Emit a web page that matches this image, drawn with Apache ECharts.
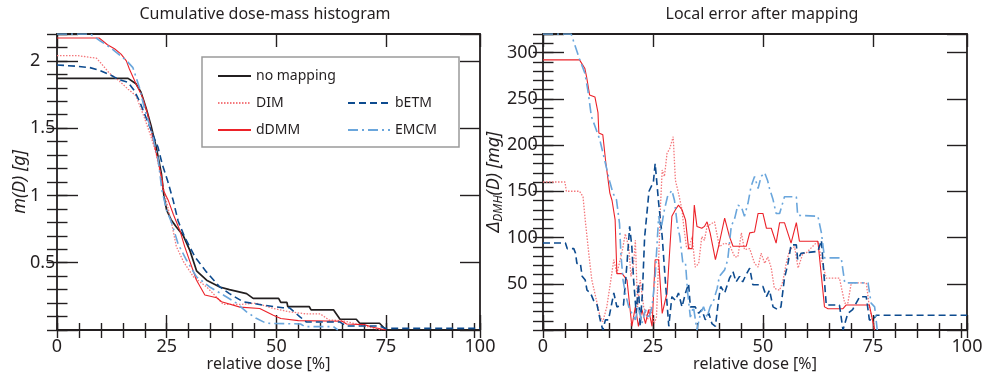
<!DOCTYPE html>
<html>
<head>
<meta charset="utf-8">
<script src="https://cdn.jsdelivr.net/npm/echarts@6/dist/echarts.min.js"></script>
<style>
  html, body { margin: 0; padding: 0; background: #fff; }
  #chart { width: 989px; height: 373px; }
</style>
</head>
<body>
<div id="chart"></div>
<script>
// the frame of both panels ends a little short of 100 %, the edge carries the "100" label
const doseEnd = 96.4
const doseTicks = [0, 25, 50, 75]
const doseEndLabel = '100'

// cumulative dose-mass histogram: [relative dose %, m(D) g]
const dmhNoMapping = [[0, 1.87], [16.2, 1.87], [18.0, 1.83], [19.1, 1.77], [20.3, 1.65], [21.5, 1.51], [22.6, 1.36], [23.8, 1.16], [24.4, 0.99], [25.0, 0.89], [26.0, 0.82], [27.2, 0.765], [28.8, 0.70], [30.3, 0.59], [31.8, 0.44], [34.1, 0.37], [37.1, 0.32], [39.3, 0.30], [43.2, 0.27], [44.7, 0.235], [50.5, 0.235], [51, 0.205], [52.4, 0.205], [52.6, 0.173], [57.5, 0.173], [57.9, 0.15], [63, 0.15], [64.5, 0.08], [68.2, 0.08], [69, 0.05], [73.5, 0.05], [75, 0.0]]
const dmhDIM = [[0, 2.04], [4.5, 2.04], [9.0, 2.02], [10.1, 1.98], [11.9, 1.91], [14.2, 1.85], [16.2, 1.79], [18.0, 1.74], [19.9, 1.58], [21.5, 1.43], [22.6, 1.31], [24.0, 1.09], [26.2, 0.78], [27.2, 0.62], [28.8, 0.51], [31.1, 0.395], [34.1, 0.32], [36.5, 0.24], [37.9, 0.19], [41.7, 0.19], [45.4, 0.20], [49.3, 0.16], [53, 0.135], [56.7, 0.12], [60, 0.12], [62, 0.074], [65, 0.07], [70, 0.03], [74, 0.0]]
const dmhDDMM = [[0, 2.17], [9.6, 2.17], [11.5, 2.12], [13.1, 2.09], [14.6, 2.05], [15.8, 2.0], [16.5, 1.94], [18.0, 1.83], [19.5, 1.73], [20.7, 1.60], [21.8, 1.43], [23.0, 1.26], [24.0, 1.11], [24.2, 1.04], [25.4, 0.96], [26.5, 0.86], [28.0, 0.74], [29.1, 0.62], [30.7, 0.47], [31.8, 0.37], [33.7, 0.26], [36.4, 0.24], [37.5, 0.21], [41.7, 0.17], [46.2, 0.16], [49.3, 0.11], [51, 0.085], [55, 0.07], [65, 0.065], [66, 0.045], [70, 0.04], [72, 0.02], [75, 0.0]]
const dmhBETM = [[0, 1.97], [4.5, 1.96], [7.5, 1.95], [9.7, 1.93], [11.9, 1.90], [14.2, 1.86], [16.2, 1.84], [17.6, 1.78], [18.8, 1.70], [19.9, 1.61], [21.5, 1.48], [23.0, 1.36], [24.0, 1.23], [25.2, 1.11], [26.5, 0.96], [27.6, 0.81], [29.1, 0.69], [31.5, 0.54], [34.1, 0.43], [37.1, 0.32], [39.3, 0.27], [42.4, 0.21], [46.9, 0.185], [51.5, 0.165], [53, 0.165], [55.3, 0.10], [56.8, 0.06], [64.4, 0.06], [65.9, 0.03], [73.5, 0.03], [74.8, 0.012], [96.4, 0.012]]
const dmhEMCM = [[0, 2.2], [7.6, 2.2], [9.8, 2.15], [12.1, 2.10], [15.9, 2.0], [17.3, 1.95], [18.8, 1.80], [19.9, 1.65], [21.5, 1.48], [23.0, 1.28], [23.9, 1.04], [25.0, 0.89], [26.2, 0.79], [27.6, 0.64], [29.5, 0.52], [31.8, 0.395], [34.8, 0.32], [37.9, 0.26], [40.9, 0.20], [43.2, 0.135], [45.4, 0.087], [47.7, 0.05], [55.5, 0.045], [56.5, 0.025], [63, 0.025], [64, 0.0]]

// local error after mapping: [relative dose %, delta mg]
const errDIM = [[0, 160], [5, 160], [5.3, 150], [8.3, 150], [9.1, 144], [9.6, 119], [10.4, 83], [11.1, 54], [12.3, 29], [13, 14], [13.6, 9], [14.5, 25], [15.3, 50], [16.1, 76], [16.8, 61], [18, 85], [18.7, 104], [19.5, 90], [20, 58], [20.6, 72], [21, 97], [21.5, 25], [22.1, 54], [22.9, 25], [23.8, 11], [24.4, 25], [25.3, 7], [25.8, 14], [26.3, 76], [26.7, 133], [27.1, 173], [27.6, 166], [28.2, 191], [28.8, 196], [29.6, 209], [30.1, 162], [30.8, 148], [31.6, 130], [32, 112], [32.6, 90], [33.1, 87], [33.9, 101], [34.6, 68], [35.4, 72], [36.1, 101], [36.7, 97], [37.3, 112], [39, 117], [40.1, 90], [41.3, 94], [42.4, 92], [43.6, 79], [44.3, 79], [45.1, 105], [45.8, 87], [47, 88], [48.1, 72], [48.9, 68], [49.6, 83], [50.4, 72], [51.1, 79], [51.9, 67], [52.6, 45], [53.8, 43], [54.5, 52], [55.3, 72], [56.1, 87], [57.2, 90], [58, 67], [59.1, 83], [59.8, 83], [60.6, 87], [62.5, 96], [63.3, 76], [64.4, 56], [67.4, 56], [68.6, 29], [69.3, 29], [70.1, 51], [73.5, 51], [74.2, 25], [75.4, 0]]
const errDDMM = [[0, 292], [8.3, 292], [9.5, 283], [9.9, 274], [10.6, 254], [11.8, 252], [12.5, 235], [12.7, 213], [13.6, 211], [14.3, 180], [15.2, 148], [15.7, 140], [16.4, 119], [16.8, 61], [18, 61], [19.1, 54], [20.2, 4], [21, 25], [21.7, 4], [22.5, 22], [23.3, 7], [24, 22], [24.8, 4], [25.5, 76], [26.3, 76], [27.1, 18], [28.2, 40], [29.3, 123], [30.1, 130], [30.8, 135], [31.6, 130], [32.4, 119], [33.1, 88], [33.9, 88], [34.4, 135], [35, 112], [36.1, 110], [36.7, 112], [37.3, 117], [38, 105], [39.2, 76], [39.9, 90], [41.3, 121], [42.4, 101], [43.2, 90.5], [46.2, 90.5], [47, 105], [48.1, 106], [48.9, 126], [50, 126], [50.8, 110], [51.9, 110], [53, 94], [53.8, 116], [54.9, 116], [56.4, 94], [57.6, 116], [58.3, 96], [62.5, 96], [64, 25], [64.8, 23], [68.2, 23], [68.9, 27], [74.2, 27], [75.4, 0]]
const errBETM = [[0, 94], [5.1, 94], [5.5, 88], [7, 88], [7.4, 83], [7.7, 72], [8.5, 72], [8.9, 58], [9.6, 54], [10, 43], [10.8, 40], [11.5, 32], [12.3, 27], [13, 11], [13.6, 0], [14.2, 11], [14.9, 11], [16.1, 40], [16.8, 25], [18.3, 27], [19.1, 72], [19.7, 112], [20.2, 90], [20.6, 54], [21.2, 18], [21.7, 50], [22.1, 4], [22.6, 40], [23.1, 100], [23.6, 125], [24.1, 150], [24.6, 155], [25.1, 160], [25.5, 180], [26.3, 137], [27.1, 101], [27.8, 54], [28.6, 4], [29.3, 36], [30.1, 32], [30.8, 40], [31.6, 25], [32.4, 40], [33.1, 50], [33.5, 25], [34.6, 25], [35.4, 18], [36.1, 22], [36.9, 11], [37.7, 18], [38.4, 7], [39.2, 4], [39.9, 32], [40.4, 47], [41.3, 40], [42.4, 56], [43.2, 63], [43.9, 52], [44.7, 58], [45.4, 52], [46.2, 60], [47, 67], [47.7, 49], [48.9, 49], [50, 47], [50.8, 36], [51.5, 43], [52.3, 25], [53.4, 22], [54.1, 25], [54.9, 56], [55.7, 72], [56.4, 92], [57.6, 92], [57.9, 76], [58.7, 83], [62.5, 85], [63.3, 97], [64.4, 27], [67.4, 27], [68.2, 0], [69.3, 18], [70.4, 22], [72, 36], [73.5, 36], [74.2, 11], [75, 11], [75.8, 16], [96.4, 16]]
const errEMCM = [[0, 320], [6.4, 320], [8.3, 293], [9.5, 278], [10.2, 259], [11, 231], [12.9, 206], [14.2, 180], [15.2, 160], [15.9, 148], [16.7, 141], [17.4, 115], [17.7, 83], [18.2, 54], [18.7, 40], [19.5, 25], [20.2, 18], [21, 11], [21.7, 25], [22.5, 7], [23.3, 22], [24, 12], [24.8, 25], [25.5, 58], [26.3, 123], [26.8, 108], [27.6, 130], [28.3, 144], [29.3, 151], [29.9, 140], [30.5, 115], [31.1, 101], [31.8, 72], [32.4, 72], [32.9, 40], [33.5, 14], [34.2, 25], [35, 0], [35.8, 18], [36.5, 25], [37.3, 14], [38, 25], [38.8, 32], [39.6, 45], [40.1, 58], [41.3, 65], [42, 76], [42.8, 112], [43.6, 121], [44.3, 135], [45.1, 133], [45.8, 123], [46.6, 137], [47.3, 155], [48.1, 166], [48.9, 153], [49.6, 166], [50.4, 170], [51.1, 161], [51.5, 153], [52.3, 141], [53, 126], [53.8, 126], [54.9, 144], [57.6, 144], [57.9, 124], [62.5, 123], [63.3, 105], [64, 78], [67.8, 78], [68.6, 51], [73.9, 51], [74.6, 29], [75.4, 25], [76, 0]]

const ink = '#231f20'
const font = 'Noto Sans'
const tickLine = { color: ink, width: 1.4 }
const frameLine = { show: true, onZero: false, lineStyle: { color: ink, width: 1.8 } }

const styles = {
  'no mapping': { color: ink, width: 1.7, type: 'solid' },
  'DIM': { color: '#f4787c', width: 1.3, type: [1.5, 1.5] },
  'dDMM': { color: '#ec2229', width: 1.1, type: 'solid' },
  'bETM': { color: '#0d4b8f', width: 1.6, type: [7, 4] },
  'EMCM': { color: '#6aa6dc', width: 1.6, type: [10, 4, 2, 4] }
}

function doseLabel (v) {
  if (v >= doseEnd - 1e-6) return doseEndLabel
  return doseTicks.indexOf(v) >= 0 ? String(v) : ''
}

// bottom major (labelled), bottom minor, top major, top minor
function doseAxes (gridIndex) {
  const base = {
    type: 'value', gridIndex, min: 0, max: doseEnd,
    splitLine: { show: false }, axisLabel: { show: false }, axisLine: { show: false }
  }
  return [
    Object.assign({}, base, {
      position: 'bottom', interval: 25, axisLine: frameLine,
      axisTick: { inside: true, length: 15, lineStyle: tickLine },
      axisLabel: { show: true, margin: 8, fontSize: 18, color: ink, fontFamily: font, formatter: doseLabel },
      name: 'relative dose [%]', nameLocation: 'middle', nameGap: 26, nameMoveOverlap: false,
      nameTextStyle: { fontSize: 16, color: ink, fontFamily: font }
    }),
    Object.assign({}, base, { position: 'bottom', interval: 5, axisTick: { inside: true, length: 7, lineStyle: tickLine } }),
    Object.assign({}, base, { position: 'top', interval: 25, axisLine: frameLine, axisTick: { inside: true, length: 13, lineStyle: tickLine } }),
    Object.assign({}, base, { position: 'top', interval: 5, axisTick: { inside: true, length: 8, lineStyle: tickLine } })
  ]
}

// left major (labelled), left minor, right major, right minor
function valueAxes (gridIndex, max, major, minor, name, nameGap, labelMargin) {
  const base = {
    type: 'value', gridIndex, min: 0, max,
    splitLine: { show: false }, axisLabel: { show: false }, axisLine: { show: false }
  }
  return [
    Object.assign({}, base, {
      position: 'left', interval: major, axisLine: frameLine,
      axisTick: { inside: true, length: 21, lineStyle: tickLine },
      axisLabel: {
        show: true, margin: labelMargin, align: 'left', fontSize: 18, color: ink, fontFamily: font,
        formatter: v => (v > 0 && v < max - 1e-6) ? String(v) : ''
      },
      name, nameLocation: 'middle', nameGap, nameRotate: 90, nameMoveOverlap: false,
      nameTextStyle: {
        fontSize: 18, color: ink, fontFamily: font, fontStyle: 'italic',
        rich: {
          a: { fontSize: 18, color: ink, fontFamily: font, fontStyle: 'italic' },
          s: { fontSize: 12, color: ink, fontFamily: font, fontStyle: 'italic', padding: [10, 0, 0, 0] }
        }
      }
    }),
    Object.assign({}, base, { position: 'left', interval: minor, axisTick: { inside: true, length: 10.5, lineStyle: tickLine } }),
    Object.assign({}, base, { position: 'right', interval: major, axisLine: frameLine, axisTick: { inside: true, length: 20, lineStyle: tickLine } }),
    Object.assign({}, base, { position: 'right', interval: minor, axisTick: { inside: true, length: 10, lineStyle: tickLine } })
  ]
}

function line (name, data, axisIndex) {
  const s = styles[name]
  return {
    name, type: 'line', data, xAxisIndex: axisIndex, yAxisIndex: axisIndex,
    symbol: 'none', silent: true, animation: false,
    lineStyle: { color: s.color, width: s.width, type: s.type },
    itemStyle: { color: s.color, opacity: 0 }
  }
}

const legendText = { fontSize: 14, color: ink, fontFamily: font, lineHeight: 14 }

const chart = echarts.init(document.getElementById('chart'))
chart.setOption({
  backgroundColor: '#fff',
  animation: false,
  title: [
    { text: 'Cumulative dose-mass histogram', left: 265, top: 6, textAlign: 'center', padding: 0,
      textStyle: { fontSize: 16, fontWeight: 'normal', color: ink, fontFamily: font } },
    { text: 'Local error after mapping', left: 762, top: 6, textAlign: 'center', padding: 0,
      textStyle: { fontSize: 16, fontWeight: 'normal', color: ink, fontFamily: font } }
  ],
  legend: [
    { data: ['no mapping', 'DIM', 'dDMM'], orient: 'vertical', left: 217, top: 69, padding: 0,
      itemWidth: 33, itemHeight: 14, itemGap: 13, itemStyle: { opacity: 0 }, textStyle: legendText },
    { data: ['bETM', 'EMCM'], orient: 'vertical', left: 347, top: 96, padding: 0,
      itemWidth: 42, itemHeight: 14, itemGap: 13, itemStyle: { opacity: 0 }, textStyle: legendText }
  ],
  graphic: [
    { type: 'rect', shape: { x: 202, y: 57, width: 257, height: 90 },
      style: { fill: 'none', stroke: '#9a9a9a', lineWidth: 1.5 }, z: 1 }
  ],
  grid: [
    { left: 57, top: 34, right: 509, bottom: 43, outerBoundsMode: 'none' },
    { left: 543, top: 34, right: 22, bottom: 43, outerBoundsMode: 'none' }
  ],
  xAxis: [...doseAxes(0), ...doseAxes(1)],
  yAxis: [
    ...valueAxes(0, 2.2, 0.5, 0.1, 'm(D) [g]', 28, 27),
    ...valueAxes(1, 320, 50, 10, '{a|Δ}{s|DMH}{a|(D) [mg]}', 38, 36)
  ],
  series: [
    line('no mapping', dmhNoMapping, 0),
    line('DIM', dmhDIM, 0),
    line('dDMM', dmhDDMM, 0),
    line('bETM', dmhBETM, 0),
    line('EMCM', dmhEMCM, 0),
    line('DIM', errDIM, 4),
    line('dDMM', errDDMM, 4),
    line('bETM', errBETM, 4),
    line('EMCM', errEMCM, 4)
  ]
})
</script>
</body>
</html>
